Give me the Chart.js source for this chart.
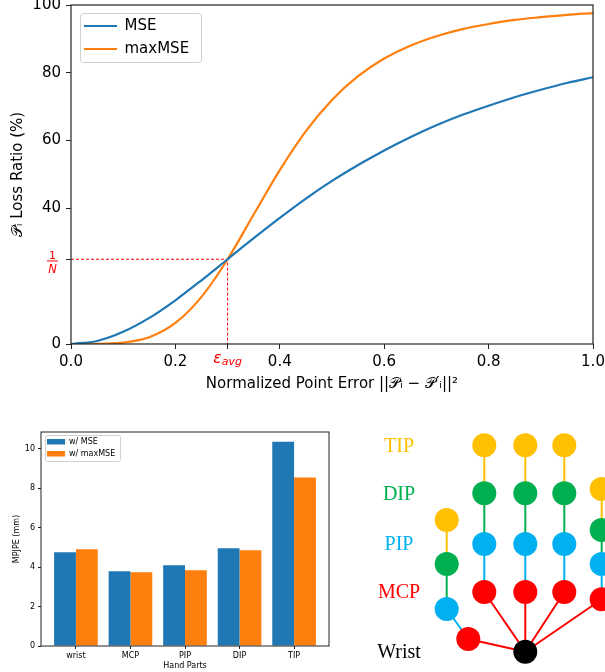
<!DOCTYPE html>
<html><head><meta charset="utf-8">
<script src="https://cdn.jsdelivr.net/npm/chart.js@4.4.1/dist/chart.umd.min.js"></script>
<style>
html,body{margin:0;padding:0;background:#fff;}
#wrap{position:relative;width:605px;height:672px;overflow:hidden;background:#fff;}
canvas{position:absolute;display:block;}
</style></head><body>
<div id="wrap">
<canvas id="lossChart" width="605" height="400" style="left:0;top:0;width:605px;height:400px"></canvas>
<canvas id="barChart" width="340" height="252" style="left:0;top:420px;width:340px;height:252px"></canvas>
<canvas id="handChart" width="245" height="252" style="left:360px;top:420px;width:245px;height:252px"></canvas>
</div>
<script>
// ---------- Top chart data ----------
const errorX = [0,0.05,0.1,0.15,0.2,0.25,0.3,0.35,0.4,0.45,0.5,0.55,0.6,0.65,0.7,0.75,0.8,0.85,0.9,0.95,1.0];
const mseRatio = [0,0.9,3.6,7.7,12.9,18.8,25.0,31.2,37.2,42.9,48.1,52.8,57.1,61.0,64.5,67.6,70.3,72.8,75.0,77.0,78.7];
const maxMseRatio = [0,0.03,0.4,2.0,6.2,13.9,25.0,38.2,51.3,62.8,72.0,79.0,84.2,88.0,90.8,92.9,94.4,95.6,96.4,97.1,97.6];
const lossSeriesNames = ['MSE','maxMSE'];
const xTickValues = [0,0.2,0.3,0.4,0.6,0.8,1.0];
const yTickValues = [0,25,40,60,80,100];
const epsAvg = 0.3;
const invN = 25;

// ---------- Bar chart data ----------
const handParts = ['wrist','MCP','PIP','DIP','TIP'];
const partIndex = [0,1,2,3,4];
const mpjpeMSE = [4.75,3.79,4.09,4.95,10.35];
const mpjpeMaxMSE = [4.90,3.74,3.84,4.85,8.54];
const barSeriesNames = ['w/ MSE','w/ maxMSE'];
const barYTicks = [0,2,4,6,8,10];

// ---------- Hand diagram data ----------
const rowLabels = ['TIP','DIP','PIP','MCP','Wrist'];
const rowLabelY = [25.3,73.3,124,172,231.7];
const jointX = [165.3, 108.3,86.7,86.7,86.7, 124.3,124.3,124.3,124.3, 165.3,165.3,165.3,165.3, 204.3,204.3,204.3,204.3, 241.7,241.7,241.7,241.7];
const jointY = [231.7, 219,189,144,100, 172,124,73.3,25.3, 172,124,73.3,25.3, 172,124,73.3,25.3, 179.3,144,110,69];
const jointLevel = ['Wrist','MCP','PIP','DIP','TIP','MCP','PIP','DIP','TIP','MCP','PIP','DIP','TIP','MCP','PIP','DIP','TIP','MCP','PIP','DIP','TIP'];
const boneFrom = [0,1,2,3, 0,5,6,7, 0,9,10,11, 0,13,14,15, 0,17,18,19];
const boneTo   = [1,2,3,4, 5,6,7,8, 9,10,11,12, 13,14,15,16, 17,18,19,20];

// ---------- Styles ----------
const FONT = '"DejaVu Sans", sans-serif';
const BLUE = '#1f77b4', ORANGE = '#ff7f0e', RED = '#ff0000', SPINE = '#222';
const levelColor = {Wrist:'#000000', MCP:'#ff0000', PIP:'#00b0f0', DIP:'#00b050', TIP:'#ffc000'};

Chart.defaults.animation = false;
Chart.defaults.font.family = FONT;
Chart.defaults.color = '#000';

function noPad(s){ s.paddingTop = 0; s.paddingBottom = 0; s.paddingLeft = 0; s.paddingRight = 0; }

const frameBox = {
  id:'frameBox',
  afterDraw(chart){
    const a = chart.chartArea, ctx = chart.ctx;
    ctx.save(); ctx.strokeStyle = SPINE; ctx.lineWidth = chart.options.frameWidth || 1.1;
    ctx.strokeRect(a.left, a.top, a.right - a.left, a.bottom - a.top);
    ctx.restore();
  }
};
function legendPlacer(left, top, frame){
  return {
    id:'legendPlacer',
    afterLayout(chart){
      const lg = chart.legend; if(!lg) return;
      const w = lg.width, h = lg.height;
      lg.left = left; lg.top = top; lg.right = left + w; lg.bottom = top + h;
    },
    beforeDraw(chart){
      const ctx = chart.ctx; ctx.save();
      ctx.beginPath();
      ctx.roundRect(frame[0]+0.5, frame[1]+0.5, frame[2], frame[3], frame[4]);
      ctx.fillStyle = 'rgba(255,255,255,0.8)'; ctx.fill();
      ctx.strokeStyle = '#d0d0d0'; ctx.lineWidth = 1; ctx.stroke();
      ctx.restore();
    }
  };
}

// ---------- Top chart ----------
const specialTicks = {
  id:'specialTicks',
  afterDraw(chart){
    const ctx = chart.ctx, xs = chart.scales.x, ys = chart.scales.y, a = chart.chartArea;
    ctx.save(); ctx.fillStyle = RED; ctx.textAlign = 'left'; ctx.textBaseline = 'alphabetic';
    const px = xs.getPixelForValue(epsAvg);
    ctx.font = 'italic 15.5px ' + FONT; const w1 = ctx.measureText('ε').width;
    ctx.font = 'italic 11px ' + FONT; const w2 = ctx.measureText('avg').width;
    const sx = px - (w1 + w2) / 2;
    ctx.font = 'italic 15.5px ' + FONT; ctx.fillText('ε', sx, a.bottom + 18.7);
    ctx.font = 'italic 11px ' + FONT; ctx.fillText('avg', sx + w1, a.bottom + 21);
    const py = ys.getPixelForValue(invN);
    const cx = 52.5;
    ctx.textAlign = 'center';
    ctx.font = '11px ' + FONT; ctx.fillText('1', cx, py - 0.3);
    ctx.fillRect(cx - 5.5, py + 1.2, 11, 1);
    ctx.font = 'italic 11.5px ' + FONT; ctx.fillText('N', cx, py + 13.5);
    ctx.restore();
  }
};

const lossDatasets = [
  {label: lossSeriesNames[0], data: errorX.map((x,i)=>({x, y: mseRatio[i]})), borderColor: BLUE, backgroundColor: BLUE},
  {label: lossSeriesNames[1], data: errorX.map((x,i)=>({x, y: maxMseRatio[i]})), borderColor: ORANGE, backgroundColor: ORANGE},
].map(d => Object.assign(d, {borderWidth: 2.2, pointRadius: 0, cubicInterpolationMode: 'monotone', fill: false}));
lossDatasets.push({
  label: 'guide', data: [{x:0, y:invN},{x:epsAvg, y:invN},{x:epsAvg, y:0}],
  borderColor: RED, backgroundColor: RED, borderWidth: 1, borderDash: [3,2], pointRadius: 0, tension: 0, fill: false
});

new Chart(document.getElementById('lossChart'), {
  type: 'line',
  data: { datasets: lossDatasets },
  options: {
    responsive: false, devicePixelRatio: 1, frameWidth: 1.2,
    layout: { padding: {left: 0, right: 12, top: 5, bottom: 0} },
    plugins: {
      tooltip: {enabled: false},
      legend: {
        position: 'chartArea', align: 'start',
        labels: {
          boxWidth: 33, boxHeight: 2, padding: 8, color: '#000', font: {size: 15, family: FONT},
          filter: item => item.datasetIndex < 2,
          generateLabels: chart => chart.data.datasets.slice(0,2).map((ds,i)=>({
            text: ds.label, fillStyle: ds.borderColor, strokeStyle: ds.borderColor, lineWidth: 0,
            hidden: false, datasetIndex: i, fontColor: '#000'
          }))
        }
      }
    },
    scales: {
      x: {
        type: 'linear', min: 0, max: 1,
        afterBuildTicks: s => { s.ticks = xTickValues.map(v => ({value: v})); },
        afterFit: s => { s.height = 56; noPad(s); },
        border: {display: false},
        grid: {drawOnChartArea: false, drawTicks: true, tickLength: 5, color: SPINE, tickWidth: 1},
        ticks: {
          maxRotation: 0, padding: 4, color: '#000', font: {size: 15, family: FONT},
          callback: v => (Math.abs(v - epsAvg) < 1e-9 ? '' : Number(v).toFixed(1))
        },
        title: {display: true, text: 'Normalized Point Error ||𝒫ᵢ − 𝒫′ᵢ||²', color: '#000',
                font: {size: 15, family: FONT}, padding: {top: 0, bottom: 7}}
      },
      y: {
        type: 'linear', min: 0, max: 100,
        afterBuildTicks: s => { s.ticks = yTickValues.map(v => ({value: v})); },
        afterFit: s => { s.width = 71; noPad(s); },
        border: {display: false},
        grid: {drawOnChartArea: false, drawTicks: true, tickLength: 5, color: SPINE, tickWidth: 1},
        ticks: {
          padding: 5, color: '#000', font: {size: 15, family: FONT},
          callback: v => (v === invN ? '' : String(v))
        },
        title: {display: true, text: '𝒫ᵢ Loss Ratio (%)', color: '#000',
                font: {size: 15, family: FONT}, padding: {top: 9, bottom: 0}}
      }
    }
  },
  plugins: [frameBox, specialTicks, legendPlacer(76, 10.5, [80, 13, 121, 49, 3])]
});

// ---------- Bar chart ----------
new Chart(document.getElementById('barChart'), {
  type: 'bar',
  data: {
    datasets: [
      {label: barSeriesNames[0], data: partIndex.map((x,i)=>({x, y: mpjpeMSE[i]})), backgroundColor: BLUE},
      {label: barSeriesNames[1], data: partIndex.map((x,i)=>({x, y: mpjpeMaxMSE[i]})), backgroundColor: ORANGE}
    ].map(d => Object.assign(d, {borderWidth: 0, categoryPercentage: 0.8, barPercentage: 1.0}))
  },
  options: {
    responsive: false, devicePixelRatio: 1, frameWidth: 1,
    layout: { padding: {left: 0, right: 11, top: 12, bottom: 0} },
    plugins: {
      tooltip: {enabled: false},
      legend: {
        position: 'chartArea', align: 'start',
        labels: {boxWidth: 18, boxHeight: 5.5, padding: 4, color: '#000', font: {size: 8, family: FONT}}
      }
    },
    scales: {
      x: {
        type: 'linear', min: -0.64, max: 4.64, offset: false,
        afterBuildTicks: s => { s.ticks = partIndex.map(v => ({value: v})); },
        afterFit: s => { s.height = 26; noPad(s); },
        border: {display: false},
        grid: {offset: false, drawOnChartArea: false, drawTicks: true, tickLength: 3, color: SPINE},
        ticks: {maxRotation: 0, padding: 2, color: '#000', font: {size: 8, family: FONT},
                callback: v => handParts[v] ?? ''},
        title: {display: true, text: 'Hand Parts', color: '#000', font: {size: 8, family: FONT},
                padding: {top: 0, bottom: 1}}
      },
      y: {
        type: 'linear', min: 0, max: 10.85,
        afterBuildTicks: s => { s.ticks = barYTicks.map(v => ({value: v})); },
        afterFit: s => { s.width = 41; noPad(s); },
        border: {display: false},
        grid: {drawOnChartArea: false, drawTicks: true, tickLength: 3, color: SPINE},
        ticks: {padding: 3, color: '#000', font: {size: 8, family: FONT}},
        title: {display: true, text: 'MPJPE (mm)', color: '#000', font: {size: 8, family: FONT},
                padding: {top: 12, bottom: 0}}
      }
    }
  },
  plugins: [frameBox, legendPlacer(43, 13.7, [45, 15, 75, 26, 2])]
});

// ---------- Hand diagram ----------
const handLabels = {
  id:'handLabels',
  afterDraw(chart){
    const ctx = chart.ctx, xs = chart.scales.x, ys = chart.scales.y;
    ctx.save(); ctx.textAlign = 'center'; ctx.textBaseline = 'middle';
    ctx.font = '20px "Liberation Serif", "Times New Roman", serif';
    rowLabels.forEach((t,i) => {
      ctx.fillStyle = levelColor[t];
      ctx.fillText(t, xs.getPixelForValue(39), ys.getPixelForValue(rowLabelY[i]) + 1);
    });
    ctx.restore();
  }
};
const handDatasets = [{
  label: 'joints',
  data: jointX.map((x,i)=>({x, y: jointY[i]})),
  pointRadius: 12, pointBorderWidth: 0, showLine: false,
  pointBackgroundColor: jointLevel.map(l => levelColor[l]),
  pointBorderColor: jointLevel.map(l => levelColor[l]),
  clip: false
}];
boneFrom.forEach((f,i) => {
  const t = boneTo[i];
  handDatasets.push({
    label: 'bone' + i,
    data: [{x: jointX[f], y: jointY[f]}, {x: jointX[t], y: jointY[t]}],
    showLine: true, pointRadius: 0, borderWidth: 2, borderColor: levelColor[jointLevel[t]], clip: false
  });
});
new Chart(document.getElementById('handChart'), {
  type: 'scatter',
  data: { datasets: handDatasets },
  options: {
    responsive: false, devicePixelRatio: 1,
    layout: {padding: 0, autoPadding: false},
    plugins: {legend: {display: false}, tooltip: {enabled: false}},
    scales: {
      x: {type: 'linear', min: 0, max: 245, display: false},
      y: {type: 'linear', min: 0, max: 252, reverse: true, display: false}
    }
  },
  plugins: [handLabels]
});
</script>
</body></html>
